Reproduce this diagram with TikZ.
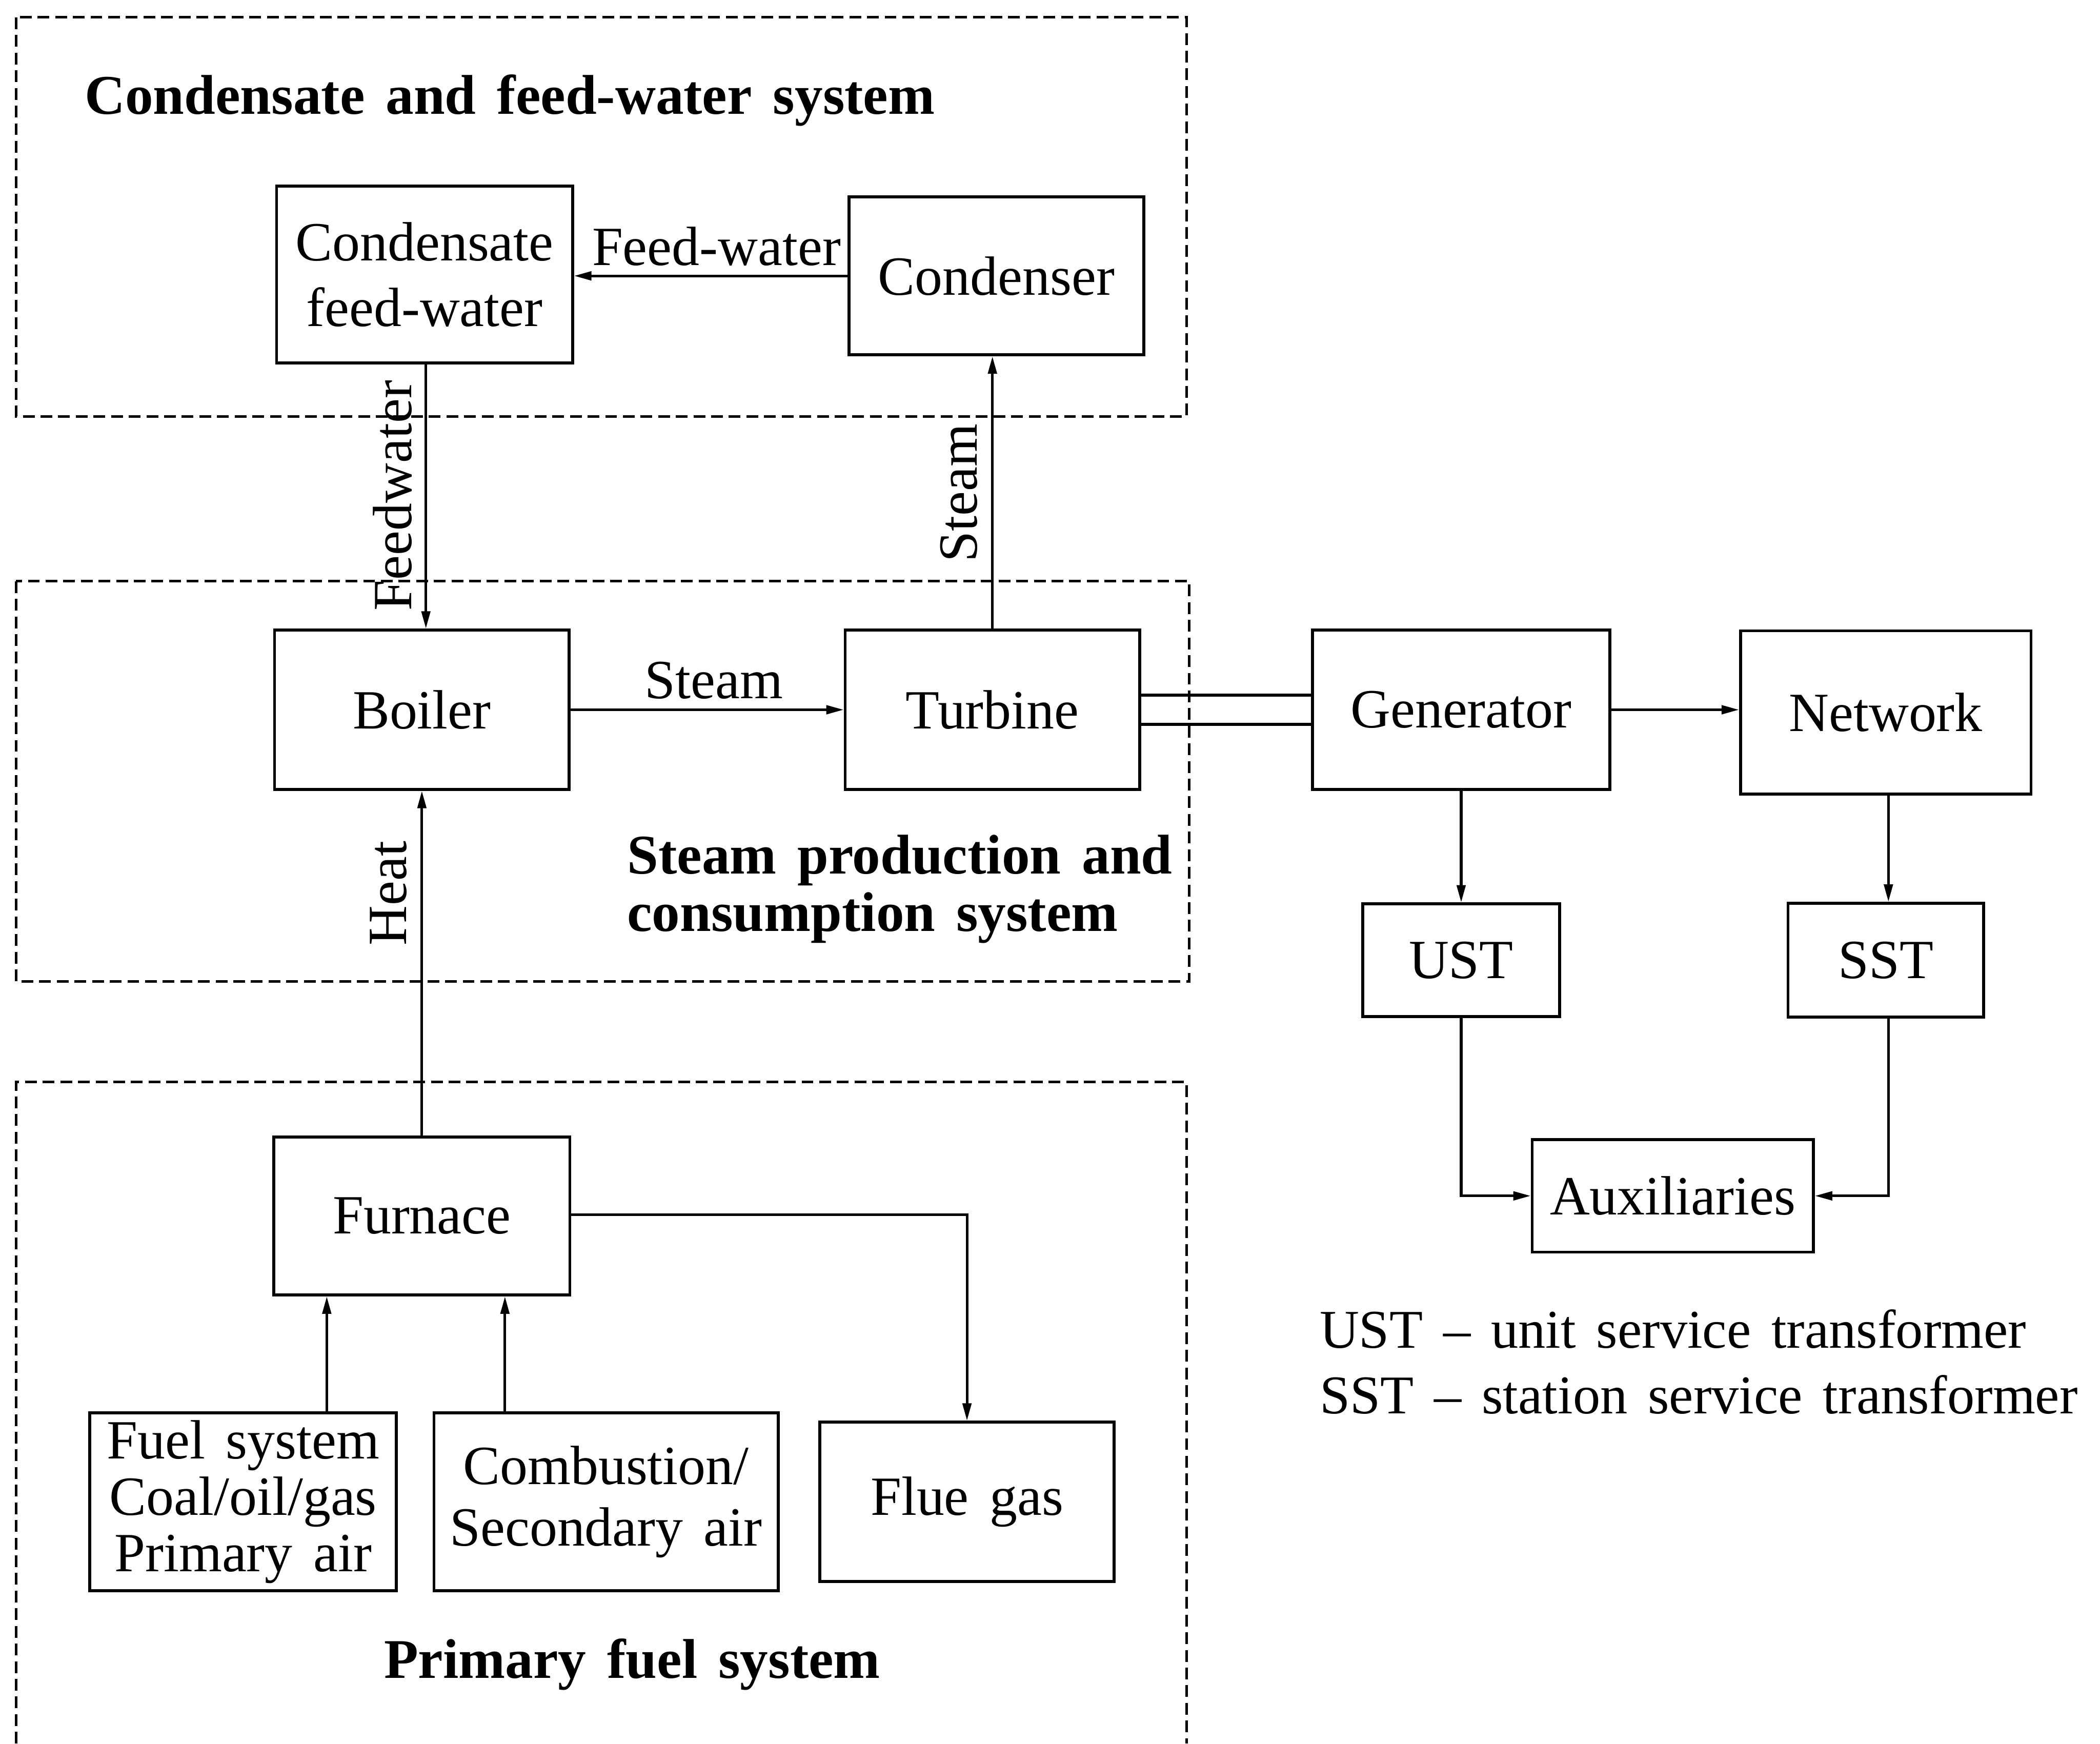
\documentclass[tikz,border=0pt]{standalone}
\usepackage{fontspec}
\setmainfont{Liberation Serif}[WordSpace=1.5]
\usetikzlibrary{arrows.meta}
\begin{document}
\begin{tikzpicture}[x=0.02cm,y=-0.02cm,
  txt/.style={font=\fontsize{23.5}{28}\selectfont},
  box/.style={draw, line width=1.25pt, inner sep=0pt, align=center, txt},
  zone/.style={line width=1.1pt, dash pattern=on 5pt off 2.5pt},
  arr/.style={line width=1.1pt, -{Triangle[length=2.6mm,width=1.3mm]}},
  lbl/.style={txt, inner sep=0pt},
  ttl/.style={font=\fontsize{23.8}{24.5}\selectfont\bfseries, inner sep=0pt, align=left}]
\useasboundingbox (0,0) rectangle (1568,1302);

% subsystem frames
\draw[zone] (12,13) rectangle (886,311);
\draw[zone] (12,434) rectangle (888,733);
\draw[zone] (12,1302) -- (12,808) -- (886,808) -- (886,1302);

% frame titles
\node[ttl, anchor=west] (t1) at (63,75) {Condensate and feed-water system};
\node[ttl, anchor=west] (t2) at (468,664) {Steam production and\\consumption system};
\node[ttl] (t3) at (472,1243) {Primary fuel system};

% condensate and feed-water system
\node[box, minimum width=4.42cm, minimum height=2.64cm] (cfw) at (317,205) {Condensate\\feed-water};
\node[box, minimum width=4.4cm, minimum height=2.36cm] (cond) at (744,206) {Condenser};

% steam production and consumption system
\node[box, minimum width=4.4cm, minimum height=2.38cm] (boil) at (315,530) {Boiler};
\node[box, minimum width=4.4cm, minimum height=2.38cm] (turb) at (741,530) {Turbine};

% electrical side
\node[box, minimum width=4.44cm, minimum height=2.38cm] (gen) at (1091,530) {Generator};
\node[box, minimum width=4.34cm, minimum height=2.44cm] (net) at (1408,532) {Network};
\node[box, minimum width=2.94cm, minimum height=1.68cm] (ust) at (1091,717) {UST};
\node[box, minimum width=2.92cm, minimum height=1.7cm] (sst) at (1408,717) {SST};
\node[box, minimum width=4.2cm, minimum height=1.68cm] (aux) at (1249,893) {Auxiliaries};

% primary fuel system
\node[box, minimum width=4.42cm, minimum height=2.36cm] (furn) at (315,908) {Furnace};
\node[box, minimum width=4.58cm, minimum height=2.66cm, font=\fontsize{23.5}{24}\selectfont] (fuel) at (181.5,1121.5) {Fuel system\\Coal/oil/gas\\Primary air};
\node[box, minimum width=5.14cm, minimum height=2.66cm, font=\fontsize{23.5}{26}\selectfont] (comb) at (452.5,1121.5) {Combustion/\\Secondary air};
\node[box, minimum width=4.4cm, minimum height=2.38cm] (flue) at (722,1121.5) {Flue gas};

% water and steam flows
\draw[arr] (cond.west) -- (cond.west -| cfw.east);
\node[lbl] (lfw) at (535,184) {Feed-water};
\draw[arr] ([xshift=0.02cm]cfw.south) -- ([xshift=0.02cm]cfw.south |- boil.north);
\node[lbl, rotate=90] (lfw2) at (293,370) {Feedwater};
\draw[arr] (boil.east) -- (turb.west);
\node[lbl] (ls1) at (533,508) {Steam};
\draw[arr] (turb.north) -- (turb.north |- cond.south);
\node[lbl, rotate=90] (ls2) at (716,368) {Steam};
\draw[arr] (furn.north) -- (boil.south);
\node[lbl, rotate=90] (lh) at (290,667) {Heat};

% turbine-generator shaft
\draw[line width=1.25pt] ([yshift=0.22cm]turb.east) -- ([yshift=0.22cm]turb.east -| gen.west);
\draw[line width=1.25pt] ([yshift=-0.22cm]turb.east) -- ([yshift=-0.22cm]turb.east -| gen.west);

% electrical connections
\draw[arr] (gen.east) -- (gen.east -| net.west);
\draw[arr] (gen.south) -- (ust.north);
\draw[arr] ([xshift=0.04cm]net.south) -- ([xshift=0.04cm]sst.north);
\draw[arr] (ust.south) |- (aux.west);
\draw[arr] ([xshift=0.04cm]sst.south) |- (aux.east);

% fuel and air supply
\coordinate (fin) at ([xshift=1.25cm]fuel.north);
\coordinate (cin) at ([xshift=-1.51cm]comb.north);
\draw[arr] (fin) -- (fin |- furn.south);
\draw[arr] (cin) -- (cin |- furn.south);
\draw[arr] ([yshift=0.02cm]furn.east) -| (flue.north);

% legend
\node[lbl, anchor=west, align=left, font=\fontsize{23.2}{28}\selectfont] (leg) at (985,1017) {UST -- unit service transformer\\SST -- station service transformer};
\end{tikzpicture}
\end{document}
